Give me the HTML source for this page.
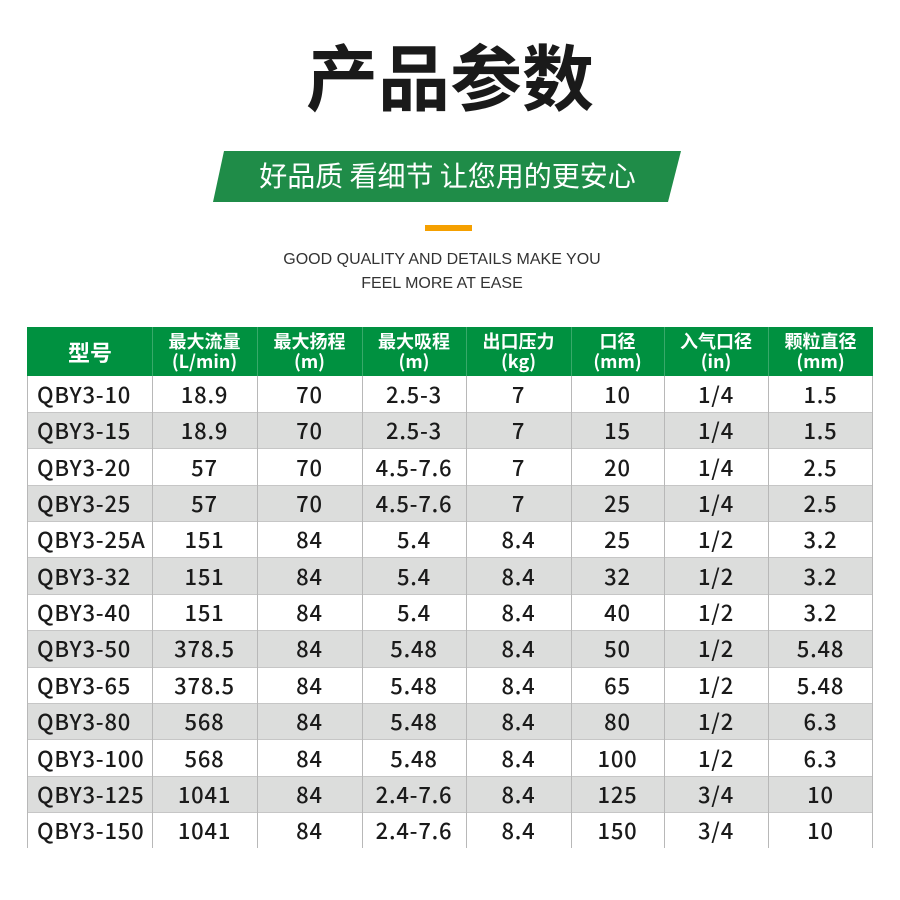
<!DOCTYPE html>
<html><head><meta charset="utf-8">
<style>
html,body{margin:0;padding:0;background:#fff;}
body{width:900px;height:900px;position:relative;overflow:hidden;font-family:"Noto Sans CJK SC","Liberation Sans",sans-serif;}
.title{position:absolute;left:0;width:900px;top:38px;text-align:center;font-size:72px;line-height:72px;font-weight:700;color:#1a1a1a;}
.banner{position:absolute;left:213px;top:151px;width:468px;height:51px;background:#1f8c48;clip-path:polygon(11px 0,468px 0,455px 51px,0 51px);}
.btxt{position:absolute;left:0;width:895px;top:161px;text-align:center;font-size:28px;line-height:28px;color:#fff;font-weight:400;}
.bar{position:absolute;left:425px;top:225px;width:47px;height:6px;background:#f5a000;}
.en{position:absolute;left:0;width:884px;text-align:center;font-family:"Liberation Sans",sans-serif;font-size:16px;line-height:20px;color:#333;}
.hdr{position:absolute;left:27px;top:327px;width:846px;height:49px;background:#009140;}
.row{position:absolute;left:27px;width:846px;}
.gray{background:#dcdddc;}
.sep{position:absolute;left:27px;width:846px;height:1px;background:#c6c6c6;}
.vl{position:absolute;width:1px;background:#b8b8b8;top:376px;height:472px;}
.vh{position:absolute;width:1px;background:rgba(255,255,255,0.22);top:327px;height:49px;}
.c{position:absolute;text-align:center;font-size:22px;color:#1a1a1a;letter-spacing:0.8px;font-weight:500;line-height:32px;}
.l{text-align:left;left:37px;}
.h{position:absolute;text-align:center;color:#fff;font-weight:700;font-size:18px;line-height:20px;}
</style></head><body>
<div class="title">产品参数</div>
<div class="banner"></div>
<div class="btxt">好品质 看细节 让您用的更安心</div>
<div class="bar"></div>
<div class="en" style="top:250px;">GOOD QUALITY AND DETAILS MAKE YOU</div>
<div class="en" style="top:274px;">FEEL MORE AT EASE</div>

<div class="hdr"></div>
<div class="vh" style="left:152px"></div>
<div class="vh" style="left:257px"></div>
<div class="vh" style="left:362px"></div>
<div class="vh" style="left:466px"></div>
<div class="vh" style="left:571px"></div>
<div class="vh" style="left:664px"></div>
<div class="vh" style="left:768px"></div>

<div class="h" style="left:27px;width:126px;top:339px;font-size:22px;line-height:26px;">型号</div>
<div class="h" style="left:152px;width:105px;top:331px;">最大流量<br>(L/min)</div>
<div class="h" style="left:257px;width:105px;top:331px;">最大扬程<br>(m)</div>
<div class="h" style="left:362px;width:104px;top:331px;">最大吸程<br>(m)</div>
<div class="h" style="left:466px;width:105px;top:331px;">出口压力<br>(kg)</div>
<div class="h" style="left:571px;width:93px;top:331px;">口径<br>(mm)</div>
<div class="h" style="left:664px;width:104px;top:331px;">入气口径<br>(in)</div>
<div class="h" style="left:768px;width:105px;top:331px;">颗粒直径<br>(mm)</div>

<div class="row gray" style="top:412.3px;height:36.3px;"></div>
<div class="row gray" style="top:485px;height:36.3px;"></div>
<div class="row gray" style="top:557.7px;height:36.3px;"></div>
<div class="row gray" style="top:630.4px;height:36.3px;"></div>
<div class="row gray" style="top:703.1px;height:36.3px;"></div>
<div class="row gray" style="top:775.8px;height:36.3px;"></div>
<div class="sep" style="top:412px"></div>
<div class="sep" style="top:448px"></div>
<div class="sep" style="top:485px"></div>
<div class="sep" style="top:521px"></div>
<div class="sep" style="top:557px"></div>
<div class="sep" style="top:594px"></div>
<div class="sep" style="top:630px"></div>
<div class="sep" style="top:667px"></div>
<div class="sep" style="top:703px"></div>
<div class="sep" style="top:739px"></div>
<div class="sep" style="top:776px"></div>
<div class="sep" style="top:812px"></div>

<div class="vl" style="left:27px"></div>
<div class="vl" style="left:152px"></div>
<div class="vl" style="left:257px"></div>
<div class="vl" style="left:362px"></div>
<div class="vl" style="left:466px"></div>
<div class="vl" style="left:571px"></div>
<div class="vl" style="left:664px"></div>
<div class="vl" style="left:768px"></div>
<div class="vl" style="left:872px"></div>

<!-- row 1 -->
<div class="c l" style="top:378px;">QBY3-10</div>
<div class="c" style="left:152px;width:105px;top:378px;">18.9</div>
<div class="c" style="left:257px;width:105px;top:378px;">70</div>
<div class="c" style="left:362px;width:104px;top:378px;">2.5-3</div>
<div class="c" style="left:466px;width:105px;top:378px;">7</div>
<div class="c" style="left:571px;width:93px;top:378px;">10</div>
<div class="c" style="left:664px;width:104px;top:378px;">1/4</div>
<div class="c" style="left:768px;width:105px;top:378px;">1.5</div>
<!-- row 2 -->
<div class="c l" style="top:414.3px;">QBY3-15</div>
<div class="c" style="left:152px;width:105px;top:414.3px;">18.9</div>
<div class="c" style="left:257px;width:105px;top:414.3px;">70</div>
<div class="c" style="left:362px;width:104px;top:414.3px;">2.5-3</div>
<div class="c" style="left:466px;width:105px;top:414.3px;">7</div>
<div class="c" style="left:571px;width:93px;top:414.3px;">15</div>
<div class="c" style="left:664px;width:104px;top:414.3px;">1/4</div>
<div class="c" style="left:768px;width:105px;top:414.3px;">1.5</div>
<!-- row 3 -->
<div class="c l" style="top:450.6px;">QBY3-20</div>
<div class="c" style="left:152px;width:105px;top:450.6px;">57</div>
<div class="c" style="left:257px;width:105px;top:450.6px;">70</div>
<div class="c" style="left:362px;width:104px;top:450.6px;">4.5-7.6</div>
<div class="c" style="left:466px;width:105px;top:450.6px;">7</div>
<div class="c" style="left:571px;width:93px;top:450.6px;">20</div>
<div class="c" style="left:664px;width:104px;top:450.6px;">1/4</div>
<div class="c" style="left:768px;width:105px;top:450.6px;">2.5</div>
<!-- row 4 -->
<div class="c l" style="top:487px;">QBY3-25</div>
<div class="c" style="left:152px;width:105px;top:487px;">57</div>
<div class="c" style="left:257px;width:105px;top:487px;">70</div>
<div class="c" style="left:362px;width:104px;top:487px;">4.5-7.6</div>
<div class="c" style="left:466px;width:105px;top:487px;">7</div>
<div class="c" style="left:571px;width:93px;top:487px;">25</div>
<div class="c" style="left:664px;width:104px;top:487px;">1/4</div>
<div class="c" style="left:768px;width:105px;top:487px;">2.5</div>
<!-- row 5 -->
<div class="c l" style="top:523.3px;">QBY3-25A</div>
<div class="c" style="left:152px;width:105px;top:523.3px;">151</div>
<div class="c" style="left:257px;width:105px;top:523.3px;">84</div>
<div class="c" style="left:362px;width:104px;top:523.3px;">5.4</div>
<div class="c" style="left:466px;width:105px;top:523.3px;">8.4</div>
<div class="c" style="left:571px;width:93px;top:523.3px;">25</div>
<div class="c" style="left:664px;width:104px;top:523.3px;">1/2</div>
<div class="c" style="left:768px;width:105px;top:523.3px;">3.2</div>
<!-- row 6 -->
<div class="c l" style="top:559.7px;">QBY3-32</div>
<div class="c" style="left:152px;width:105px;top:559.7px;">151</div>
<div class="c" style="left:257px;width:105px;top:559.7px;">84</div>
<div class="c" style="left:362px;width:104px;top:559.7px;">5.4</div>
<div class="c" style="left:466px;width:105px;top:559.7px;">8.4</div>
<div class="c" style="left:571px;width:93px;top:559.7px;">32</div>
<div class="c" style="left:664px;width:104px;top:559.7px;">1/2</div>
<div class="c" style="left:768px;width:105px;top:559.7px;">3.2</div>
<!-- row 7 -->
<div class="c l" style="top:596px;">QBY3-40</div>
<div class="c" style="left:152px;width:105px;top:596px;">151</div>
<div class="c" style="left:257px;width:105px;top:596px;">84</div>
<div class="c" style="left:362px;width:104px;top:596px;">5.4</div>
<div class="c" style="left:466px;width:105px;top:596px;">8.4</div>
<div class="c" style="left:571px;width:93px;top:596px;">40</div>
<div class="c" style="left:664px;width:104px;top:596px;">1/2</div>
<div class="c" style="left:768px;width:105px;top:596px;">3.2</div>
<!-- row 8 -->
<div class="c l" style="top:632.4px;">QBY3-50</div>
<div class="c" style="left:152px;width:105px;top:632.4px;">378.5</div>
<div class="c" style="left:257px;width:105px;top:632.4px;">84</div>
<div class="c" style="left:362px;width:104px;top:632.4px;">5.48</div>
<div class="c" style="left:466px;width:105px;top:632.4px;">8.4</div>
<div class="c" style="left:571px;width:93px;top:632.4px;">50</div>
<div class="c" style="left:664px;width:104px;top:632.4px;">1/2</div>
<div class="c" style="left:768px;width:105px;top:632.4px;">5.48</div>
<!-- row 9 -->
<div class="c l" style="top:668.8px;">QBY3-65</div>
<div class="c" style="left:152px;width:105px;top:668.8px;">378.5</div>
<div class="c" style="left:257px;width:105px;top:668.8px;">84</div>
<div class="c" style="left:362px;width:104px;top:668.8px;">5.48</div>
<div class="c" style="left:466px;width:105px;top:668.8px;">8.4</div>
<div class="c" style="left:571px;width:93px;top:668.8px;">65</div>
<div class="c" style="left:664px;width:104px;top:668.8px;">1/2</div>
<div class="c" style="left:768px;width:105px;top:668.8px;">5.48</div>
<!-- row 10 -->
<div class="c l" style="top:705px;">QBY3-80</div>
<div class="c" style="left:152px;width:105px;top:705px;">568</div>
<div class="c" style="left:257px;width:105px;top:705px;">84</div>
<div class="c" style="left:362px;width:104px;top:705px;">5.48</div>
<div class="c" style="left:466px;width:105px;top:705px;">8.4</div>
<div class="c" style="left:571px;width:93px;top:705px;">80</div>
<div class="c" style="left:664px;width:104px;top:705px;">1/2</div>
<div class="c" style="left:768px;width:105px;top:705px;">6.3</div>
<!-- row 11 -->
<div class="c l" style="top:741.5px;">QBY3-100</div>
<div class="c" style="left:152px;width:105px;top:741.5px;">568</div>
<div class="c" style="left:257px;width:105px;top:741.5px;">84</div>
<div class="c" style="left:362px;width:104px;top:741.5px;">5.48</div>
<div class="c" style="left:466px;width:105px;top:741.5px;">8.4</div>
<div class="c" style="left:571px;width:93px;top:741.5px;">100</div>
<div class="c" style="left:664px;width:104px;top:741.5px;">1/2</div>
<div class="c" style="left:768px;width:105px;top:741.5px;">6.3</div>
<!-- row 12 -->
<div class="c l" style="top:777.9px;">QBY3-125</div>
<div class="c" style="left:152px;width:105px;top:777.9px;">1041</div>
<div class="c" style="left:257px;width:105px;top:777.9px;">84</div>
<div class="c" style="left:362px;width:104px;top:777.9px;">2.4-7.6</div>
<div class="c" style="left:466px;width:105px;top:777.9px;">8.4</div>
<div class="c" style="left:571px;width:93px;top:777.9px;">125</div>
<div class="c" style="left:664px;width:104px;top:777.9px;">3/4</div>
<div class="c" style="left:768px;width:105px;top:777.9px;">10</div>
<!-- row 13 -->
<div class="c l" style="top:814.2px;">QBY3-150</div>
<div class="c" style="left:152px;width:105px;top:814.2px;">1041</div>
<div class="c" style="left:257px;width:105px;top:814.2px;">84</div>
<div class="c" style="left:362px;width:104px;top:814.2px;">2.4-7.6</div>
<div class="c" style="left:466px;width:105px;top:814.2px;">8.4</div>
<div class="c" style="left:571px;width:93px;top:814.2px;">150</div>
<div class="c" style="left:664px;width:104px;top:814.2px;">3/4</div>
<div class="c" style="left:768px;width:105px;top:814.2px;">10</div>
</body></html>
